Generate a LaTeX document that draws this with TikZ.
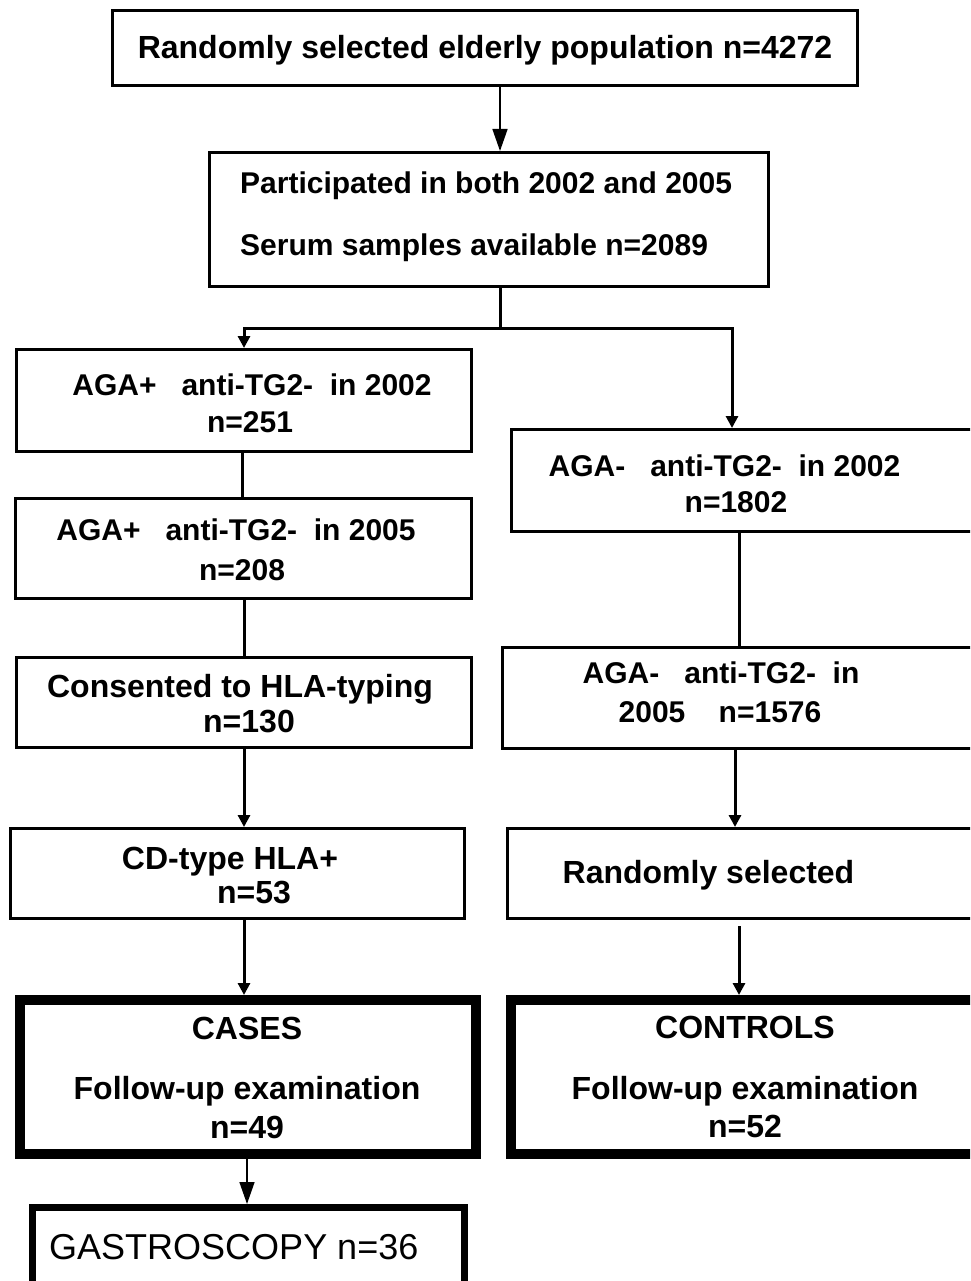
\documentclass[tikz,border=0pt]{standalone}
\usepackage{fontspec}
\setmainfont{Liberation Sans}
\usetikzlibrary{arrows.meta}
\begin{document}
\begin{tikzpicture}[x=1pt,y=-1pt,
  box/.style={draw=black, line width=3pt, inner sep=0pt},
  heavybox/.style={box, line width=10pt},
  gbox/.style={box, line width=7pt},
  lbl/.style={inner sep=0pt, anchor=base, font=\bfseries\fontsize{30}{36}\selectfont},
  lblb/.style={lbl, font=\bfseries\fontsize{32}{38}\selectfont},
  lblw/.style={lbl, anchor=base west},
  conn/.style={line width=3pt},
  arr/.style={conn, -{Triangle[length=12pt,width=12pt]}},
  thinarr/.style={line width=1.5pt, -{Triangle[length=22pt,width=15pt]}}
]
\useasboundingbox (0,0) rectangle (970,1281);
\clip (0,0) rectangle (970,1281);
\fill[white] (0,0) rectangle (970,1281);

% boxes
\node[box, minimum width=745pt, minimum height=75pt] (top) at (485,48) {};
\node[box, minimum width=559pt, minimum height=134pt] (pb) at (489,219.5) {};
\node[box, minimum width=455pt, minimum height=102pt] (L1) at (244,400.5) {};
\node[box, minimum width=463.5pt, minimum height=102pt] (R1) at (743.25,480.5) {};
\node[box, minimum width=456pt, minimum height=100pt] (L2) at (243.5,548.5) {};
\node[box, minimum width=455pt, minimum height=90pt] (L3) at (244,702.5) {};
\node[box, minimum width=472.5pt, minimum height=101pt] (R2) at (738.75,698) {};
\node[box, minimum width=454pt, minimum height=90pt] (L4) at (237.5,873.5) {};
\node[box, minimum width=467.5pt, minimum height=90pt] (R3) at (741.25,873.5) {};
\node[heavybox, minimum width=456pt, minimum height=154pt] (cases) at (248,1077) {};
\node[heavybox, minimum width=469pt, minimum height=154pt] (ctrl) at (745.5,1077) {};
\node[gbox, minimum width=432pt, minimum height=92.5pt] (gas) at (248.5,1253.75) {};

% texts
\node[lblb] (ttop) at (485,59) {Randomly selected elderly population n=4272};
\node[lblw] (tpb1) at (240,194) {Participated in both 2002 and 2005};
\node[lblw] (tpb2) at (240,255) {Serum samples available n=2089};
\node[lbl] (tL1a) at (252,395) {AGA+\ \ \ anti-TG2-\ \ in 2002};
\node[lbl] (tL1b) at (250,432) {n=251};
\node[lbl] (tR1a) at (724.5,476) {AGA-\ \ \ anti-TG2-\ \ in 2002};
\node[lbl] (tR1b) at (736,512) {n=1802};
\node[lbl] (tL2a) at (236,540) {AGA+\ \ \ anti-TG2-\ \ in 2005};
\node[lbl] (tL2b) at (242,580) {n=208};
\node[lblb] (tL3a) at (240,697) {Consented to HLA-typing};
\node[lblb] (tL3b) at (249,732) {n=130};
\node[lbl] (tR2a) at (721,683) {AGA-\ \ \ anti-TG2-\ \ in};
\node[lbl] (tR2b) at (720,722) {2005\ \ \ \ n=1576};
\node[lblb] (tL4a) at (230,869) {CD-type HLA+};
\node[lblb] (tL4b) at (254,903) {n=53};
\node[lblb] (tR3) at (708.5,883) {Randomly selected};
\node[lblb] (tCa) at (247,1039) {CASES};
\node[lblb] (tCb) at (247,1099) {Follow-up examination};
\node[lblb] (tCc) at (247,1138) {n=49};
\node[lblb] (tKa) at (745,1038) {CONTROLS};
\node[lblb] (tKb) at (745,1099) {Follow-up examination};
\node[lblb] (tKc) at (745,1137) {n=52};
\node[inner sep=0pt, anchor=base west, font=\fontsize{36}{43}\selectfont] (tG) at (49,1259) {GASTROSCOPY n=36};

% column coordinates
\coordinate (sx) at (500,0);
\coordinate (br) at (0,328);
\coordinate (lx) at (244,0);
\coordinate (rx) at (732,0);
\coordinate (c242) at (242,0);
\coordinate (gx) at (247,0);
\coordinate (r739) at (739,0);
\coordinate (r735) at (735,0);
\coordinate (rstart) at (739,926);

% connectors
\draw[thinarr] (top.south -| sx) -- (pb.north -| sx);
\draw[arr] (pb.south -| sx) -- (sx |- br) -| (L1.north -| lx);
\draw[arr] (sx |- br) -| (R1.north -| rx);
\draw[conn] (L1.south -| c242) -- (L2.north -| c242);
\draw[conn] (L2.south -| lx) -- (L3.north -| lx);
\draw[arr] (L3.south -| lx) -- (L4.north -| lx);
\draw[arr] (L4.south -| lx) -- (cases.north -| lx);
\draw[thinarr] (cases.south -| gx) -- (gas.north -| gx);
\draw[conn] (R1.south -| r739) -- (R2.north -| r739);
\draw[arr] (R2.south -| r735) -- (R3.north -| r735);
\draw[arr] (rstart) -- (ctrl.north -| rstart);
\end{tikzpicture}
\end{document}
